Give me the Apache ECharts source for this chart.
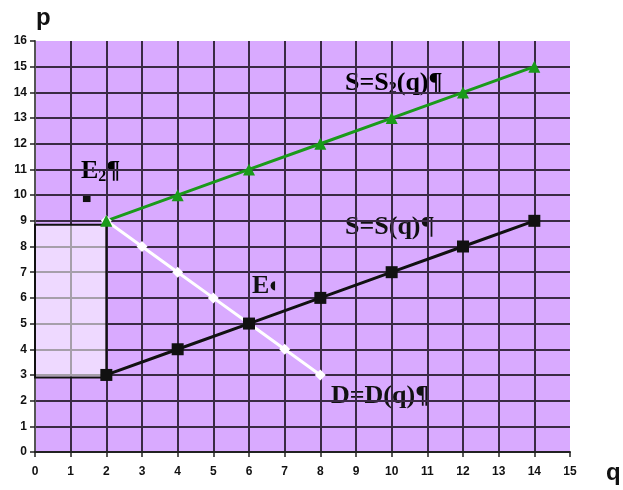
<!DOCTYPE html>
<html><head><meta charset="utf-8">
<script src="https://cdn.jsdelivr.net/npm/echarts@6/dist/echarts.min.js"></script>
<style>html,body{margin:0;padding:0;background:#fff}#c{width:623px;height:490px}</style>
</head><body><div id="c"></div>
<script>
const xTicks = [0,1,2,3,4,5,6,7,8,9,10,11,12,13,14,15];
const yTicks = [0,1,2,3,4,5,6,7,8,9,10,11,12,13,14,15,16];
const supply2 = [[2,9],[4,10],[6,11],[8,12],[10,13],[12,14],[14,15]];
const supply = [[2,3],[4,4],[6,5],[8,6],[10,7],[12,8],[14,9]];
const demand = [[2,9],[3,8],[4,7],[5,6],[6,5],[7,4],[8,3]];
const shadedBox = [[0,2.9],[2,8.85]];

const gridCol = '#3a2a44';
const xSplitColors = xTicks.map((t, i) => i === xTicks.length - 1 ? 'rgba(0,0,0,0)' : gridCol);
const ySplitColors = yTicks.map((t, i) => i === yTicks.length - 1 ? 'rgba(0,0,0,0)' : gridCol);

const chart = echarts.init(document.getElementById('c'));
const serif = '"Liberation Serif","Times New Roman",serif';
const FS = 26;
const rich = {a: {fontFamily: serif, fontWeight: 'bold', fontSize: FS, color: '#111'},
              s: {fontFamily: serif, fontWeight: 'bold', fontSize: 16, color: '#111', padding: [12,0,0,0]}};
chart.setOption({
  animation: false,
  grid: {left: 35, right: 53, top: 41, bottom: 38, show: true, backgroundColor: '#d9aaff', borderWidth: 0},
  xAxis: {
    type: 'value', min: 0, max: 15, interval: 1,
    axisLine: {show: true, onZero: false, lineStyle: {color: '#222', width: 2}},
    axisTick: {show: true, length: 5, lineStyle: {color: '#222', width: 1.5}},
    axisLabel: {color: '#111', fontFamily: 'Liberation Sans', fontWeight: 'bold', fontSize: 12, margin: 14},
    splitLine: {show: true, lineStyle: {color: xSplitColors, width: 2}}
  },
  yAxis: {
    type: 'value', min: 0, max: 16, interval: 1,
    axisLine: {show: true, onZero: false, lineStyle: {color: '#555', width: 2}},
    axisTick: {show: true, length: 5, lineStyle: {color: '#222', width: 1.5}},
    axisLabel: {color: '#111', fontFamily: 'Liberation Sans', fontWeight: 'bold', fontSize: 12, margin: 8},
    splitLine: {show: true, lineStyle: {color: ySplitColors, width: 2}}
  },
  series: [
    {type: 'line', data: [], markArea: {silent: true,
      itemStyle: {color: 'rgba(255,255,255,0.55)', borderColor: '#111', borderWidth: 2},
      data: [[{coord: shadedBox[0]}, {coord: shadedBox[1]}]]}},
    {type: 'line', data: demand, symbol: 'diamond', symbolSize: 11,
      lineStyle: {color: '#fff', width: 3}, itemStyle: {color: '#fff'}},
    {type: 'line', data: supply2, symbol: 'triangle', symbolSize: 12,
      lineStyle: {color: '#1a9a1a', width: 3}, itemStyle: {color: '#1a9a1a'}},
    {type: 'line', data: supply, symbol: 'rect', symbolSize: 12,
      lineStyle: {color: '#111', width: 3}, itemStyle: {color: '#111'}}
  ],
  graphic: [
    {type: 'text', left: 36, top: 6, style: {text: 'p', font: 'bold 24px "Liberation Sans"', fill: '#111'}},
    {type: 'text', left: 606, top: 461, style: {text: 'q', font: 'bold 24px "Liberation Sans"', fill: '#111'}},
    {type: 'text', left: 81, top: 158, style: {text: '{a|E}{s|2}{a|¶}', rich: rich}},
    {type: 'text', left: 82, top: 193, style: {text: '■', font: 'bold 10px "DejaVu Sans"', fill: '#111'}},
    {type: 'text', left: 345, top: 70, style: {text: '{a|S=S}{s|2}{a|(q)¶}', rich: rich}},
    {type: 'text', left: 345, top: 214, style: {text: 'S=S(q)¶', font: 'bold ' + FS + 'px "Liberation Serif"', fill: '#111'}},
    {type: 'text', left: 252, top: 273, style: {text: 'E', font: 'bold ' + FS + 'px "Liberation Serif"', fill: '#111'}},
    {type: 'text', left: 270, top: 280, style: {text: '◖', font: 'bold 12px "DejaVu Sans"', fill: '#111'}},
    {type: 'text', left: 331, top: 383, style: {text: 'D=D(q)¶', font: 'bold ' + FS + 'px "Liberation Serif"', fill: '#111'}}
  ]
});
</script></body></html>
